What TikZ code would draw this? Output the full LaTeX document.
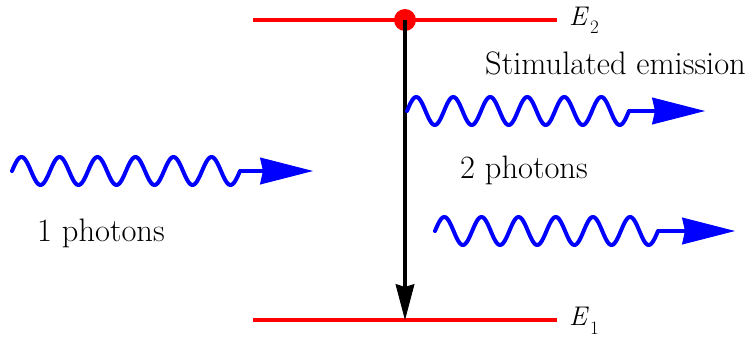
\documentclass[tikz,border=0pt]{standalone}
\usepackage{fontspec}
\usetikzlibrary{arrows.meta}
\begin{document}
\begin{tikzpicture}[x=1pt,y=-1pt,
  level/.style={red, line width=4pt},
  wave/.style={blue, line width=4pt, line join=round, line cap=round},
  photonarrow/.style={blue, line width=4pt, -{Stealth[length=53pt,width=27pt,inset=3pt,line width=1pt]}},
  transition/.style={black, line width=3.5pt, -{Stealth[length=36pt,width=19pt,inset=3pt,line width=1pt]}},
  lbl/.style={anchor=base west, inner sep=0pt, font=\fontsize{32.5}{38}\selectfont},
  elbl/.style={anchor=base west, inner sep=0pt, font=\fontsize{27}{30}\selectfont\itshape},
  sub/.style={anchor=base west, inner sep=0pt, font=\fontsize{19}{22}\selectfont}]
\useasboundingbox (0,0) rectangle (750,340);
% energy levels
\coordinate (e2l) at (253,20);
\coordinate (e2r) at (557,20);
\coordinate (e1l) at (253,320);
\coordinate (e1r) at (557,320);
\draw[level] (e2l) -- (e2r);
\draw[level] (e1l) -- (e1r);
\node[elbl] (E2) at (569,25) {E};
\node[sub] (E2s) at (590,33) {2};
\node[elbl] (E1) at (569,325) {E};
\node[sub] (E1s) at (590,334) {1};
% excited atom and transition
\node[circle, fill=red, minimum size=22pt, inner sep=0pt] (exc) at (405,20) {};
\coordinate (gnd) at (405,320);
\draw[transition] (exc.center) -- (gnd);
% incoming photon
\coordinate (w1e) at (240,171);
\coordinate (w1t) at (313,171);
\draw[wave] plot[domain=0:228, samples=240] ({12+\x}, {171-14*sin(\x/38*360)});
\draw[photonarrow] (w1e) -- (w1t);
% stimulated photon (upper)
\coordinate (w2e) at (629,111);
\coordinate (w2t) at (705,111);
\draw[wave] plot[domain=0:222, samples=240] ({407+\x}, {111-14*sin(\x/37*360)});
\draw[photonarrow] (w2e) -- (w2t);
% stimulated photon (lower)
\coordinate (w3e) at (658,231);
\coordinate (w3t) at (735,231);
\draw[wave] plot[domain=0:223, samples=240] ({435+\x}, {231-14*sin(\x/37.1667*360)});
\draw[photonarrow] (w3e) -- (w3t);
% labels
\node[lbl] (stim) at (485,74) {Stimulated emission};
\node[lbl] (two) at (460,178) {2 photons};
\node[lbl] (one) at (37,241) {1 photons};
\end{tikzpicture}
\end{document}
